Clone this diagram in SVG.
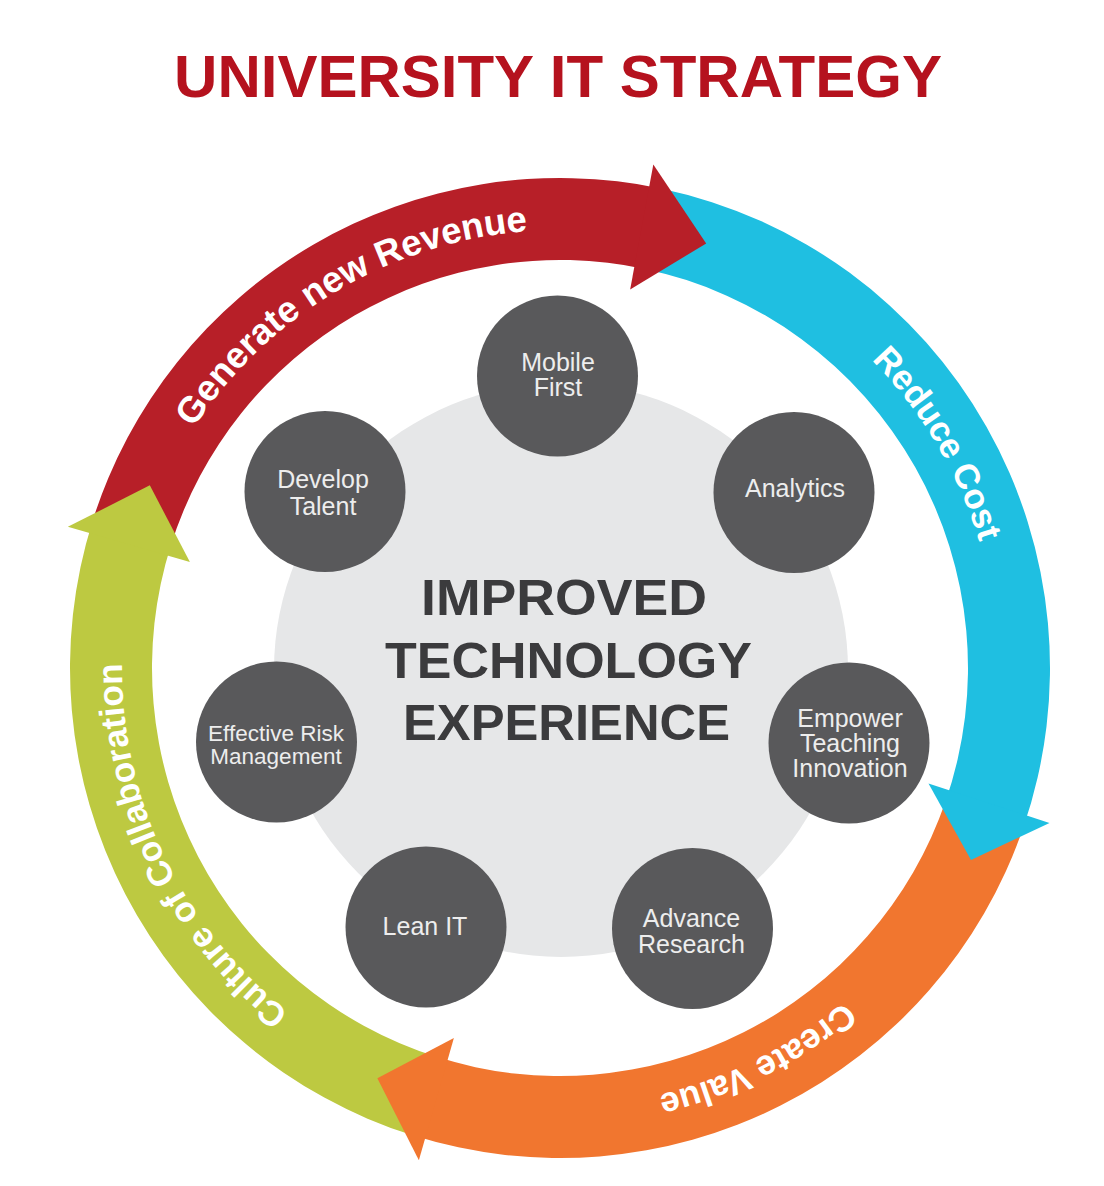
<svg xmlns="http://www.w3.org/2000/svg" width="1104" height="1186" viewBox="0 0 1104 1186">
<style>
.title{font-family:"Liberation Sans",Arial,sans-serif;font-weight:700;font-size:60px;fill:#B5121E}
.core{font-family:"Liberation Sans",Arial,sans-serif;font-weight:700;font-size:50px;fill:#3B3B3D}
.node circle{fill:#59595B}
.node text{font-family:"Liberation Sans",Arial,sans-serif;font-size:25px;fill:#EDEDED;text-anchor:middle}
.arc-label{font-family:"Liberation Sans",Arial,sans-serif;font-weight:700;font-size:35px;fill:#FFFFFF}
.red{fill:#B71F28}.cyan{fill:#1FBFE1}.orange{fill:#F1762F}.green{fill:#BDC941}
</style>
<defs>
<path id="p-red" d="M164.67,856.56 A438,438 0 0 1 916.58,413.65"/>
<path id="p-cyan" d="M370.06,273.33 A438,438 0 0 1 815.59,1023.69"/>
<path id="p-orange" d="M966.96,506.05 A438,438 0 0 1 187.35,898.16"/>
<path id="p-green" d="M714.11,1078.0 A438,438 0 0 1 337.04,291.0"/>
</defs>
<rect width="1104" height="1186" fill="#FFFFFF"/>
<text class="title" x="558" y="97" text-anchor="middle">UNIVERSITY IT STRATEGY</text>
<g id="center">
<circle cx="561" cy="670" r="287" fill="#E6E7E8"/>
<text class="core" x="421" y="615" textLength="286" lengthAdjust="spacingAndGlyphs">IMPROVED</text>
<text class="core" x="385" y="678" textLength="367" lengthAdjust="spacingAndGlyphs">TECHNOLOGY</text>
<text class="core" x="403" y="740" textLength="327" lengthAdjust="spacingAndGlyphs">EXPERIENCE</text>
</g>
<g id="connectors">
<g id="bands">
<path class="red" d="M92.68,520.65 A490,490 0 0 1 661.88,188.71 L644.83,268.91 A408,408 0 0 0 170.88,545.31 Z"/>
<path class="cyan" d="M661.88,188.71 A490,490 0 0 1 1023.30,827.53 L945.77,800.83 A408,408 0 0 0 644.83,268.91 Z"/>
<path class="orange" d="M1023.30,827.53 A490,490 0 0 1 412.65,1135.32 L437.31,1057.12 A408,408 0 0 0 945.77,800.83 Z"/>
<path class="green" d="M412.65,1135.32 A490,490 0 0 1 92.68,520.65 L170.88,545.31 A408,408 0 0 0 437.31,1057.12 Z"/>
</g>
<g id="heads">
<polygon class="red" points="653.31,164.58 706.18,243.46 630.16,289.45"/>
<polygon class="cyan" points="1049.5,823 971,860 928.5,783.5"/>
<polygon class="orange" points="418.87,1160.17 377.37,1078.18 453.88,1038.09"/>
<polygon class="green" points="67.83,526.87 149.82,485.37 189.91,561.88"/>
</g>
<g id="arc-labels">
<text class="arc-label" style="font-size:36.5px"><textPath href="#p-red" startOffset="50%" text-anchor="middle">Generate new Revenue</textPath></text>
<text class="arc-label"><textPath href="#p-cyan" startOffset="50%" text-anchor="middle">Reduce Cost</textPath></text>
<text class="arc-label"><textPath href="#p-orange" startOffset="50%" text-anchor="middle">Create Value</textPath></text>
<text class="arc-label"><textPath href="#p-green" startOffset="50%" text-anchor="middle">Culture of Collaboration</textPath></text>
</g>
</g>
<g id="node-mobile" class="node"><circle cx="557.5" cy="376" r="80.5"/><text x="558" y="371">Mobile</text><text x="558" y="396">First</text></g>
<g id="node-analytics" class="node"><circle cx="794" cy="492.5" r="80.5"/><text x="795" y="497">Analytics</text></g>
<g id="node-empower" class="node"><circle cx="849" cy="743" r="80.5"/><text x="850" y="727">Empower</text><text x="850" y="752">Teaching</text><text x="850" y="777">Innovation</text></g>
<g id="node-research" class="node"><circle cx="692.5" cy="928.5" r="80.5"/><text x="691.5" y="927">Advance</text><text x="691.5" y="953">Research</text></g>
<g id="node-lean" class="node"><circle cx="426" cy="927" r="80.5"/><text x="425" y="935">Lean IT</text></g>
<g id="node-risk" class="node"><circle cx="276.5" cy="742" r="80.5"/><text x="276" y="741" style="font-size:22.5px">Effective Risk</text><text x="276" y="764" style="font-size:22.5px">Management</text></g>
<g id="node-talent" class="node"><circle cx="325" cy="491.5" r="80.5"/><text x="323" y="488">Develop</text><text x="323" y="515">Talent</text></g>
</svg>
